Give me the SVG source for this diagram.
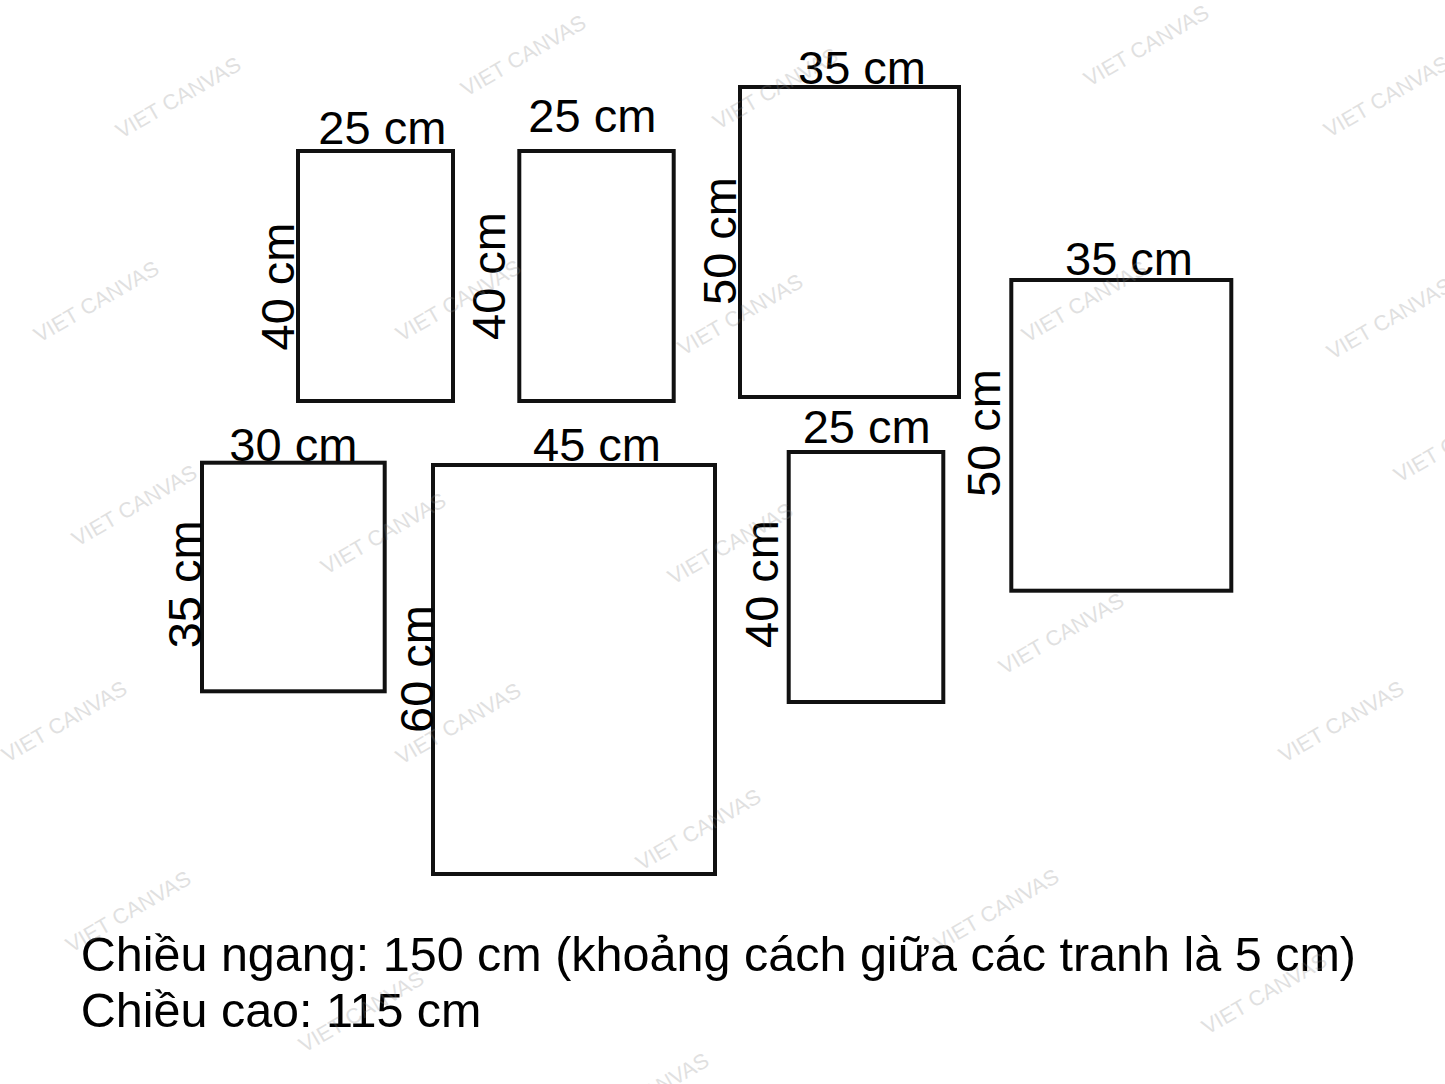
<svg xmlns="http://www.w3.org/2000/svg" width="1445" height="1084" viewBox="0 0 1445 1084">
<style>
.frame{fill:#fff;stroke:#111;stroke-width:4}
.lbl{font-family:"Liberation Sans",Arial,sans-serif;font-size:47px;fill:#000}
.note{font-family:"Liberation Sans",Arial,sans-serif;font-size:48.5px;fill:#000}
.wm{font-family:"Liberation Sans",Arial,sans-serif;font-size:21.5px;fill:#888;opacity:0.25;text-anchor:middle}
</style>
<rect width="1445" height="1084" fill="#fff"/>
<g id="canvas-25x40-a">
<rect class="frame" x="298" y="151" width="155" height="250"/>
<text class="lbl" x="318.3" y="144">25 cm</text>
<text class="lbl" transform="translate(294,350.5) rotate(-90)">40 cm</text>
</g>
<g id="canvas-25x40-b">
<rect class="frame" x="519.3" y="151" width="154.4" height="250"/>
<text class="lbl" x="528.3" y="132">25 cm</text>
<text class="lbl" transform="translate(505,340) rotate(-90)">40 cm</text>
</g>
<g id="canvas-35x50-a">
<rect class="frame" x="740" y="87" width="219" height="310"/>
<text class="lbl" x="798" y="84">35 cm</text>
<text class="lbl" transform="translate(736,305) rotate(-90)">50 cm</text>
</g>
<g id="canvas-35x50-b">
<rect class="frame" x="1011.3" y="280" width="220" height="310.7"/>
<text class="lbl" x="1065" y="275">35 cm</text>
<text class="lbl" transform="translate(1000,497) rotate(-90)">50 cm</text>
</g>
<g id="canvas-30x35">
<rect class="frame" x="202" y="462.7" width="182.7" height="228.6"/>
<text class="lbl" x="229.3" y="461">30 cm</text>
<text class="lbl" transform="translate(201,648.3) rotate(-90)">35 cm</text>
</g>
<g id="canvas-45x60">
<rect class="frame" x="433" y="465" width="282" height="409"/>
<text class="lbl" x="533" y="461">45 cm</text>
<text class="lbl" transform="translate(433,733) rotate(-90)">60 cm</text>
</g>
<g id="canvas-25x40-c">
<rect class="frame" x="788.7" y="452" width="154.6" height="250"/>
<text class="lbl" x="802.7" y="443">25 cm</text>
<text class="lbl" transform="translate(778,648) rotate(-90)">40 cm</text>
</g>
<g id="connectors"></g>
<g id="notes">
<text class="note" x="80.7" y="970.7">Chiều ngang: 150 cm (khoảng cách giữa các tranh là 5 cm)</text>
<text class="note" x="80.7" y="1026.7">Chiều cao: 115 cm</text>
</g>
<g id="watermarks">
<text class="wm" transform="translate(182,104) rotate(-30)">VIET CANVAS</text>
<text class="wm" transform="translate(527,62) rotate(-30)">VIET CANVAS</text>
<text class="wm" transform="translate(779,95) rotate(-30)">VIET CANVAS</text>
<text class="wm" transform="translate(1150,52) rotate(-30)">VIET CANVAS</text>
<text class="wm" transform="translate(1390,103) rotate(-30)">VIET CANVAS</text>
<text class="wm" transform="translate(100,308) rotate(-30)">VIET CANVAS</text>
<text class="wm" transform="translate(462,307) rotate(-30)">VIET CANVAS</text>
<text class="wm" transform="translate(744,321) rotate(-30)">VIET CANVAS</text>
<text class="wm" transform="translate(1088,308) rotate(-30)">VIET CANVAS</text>
<text class="wm" transform="translate(1393,325) rotate(-30)">VIET CANVAS</text>
<text class="wm" transform="translate(1460,448) rotate(-30)">VIET CANVAS</text>
<text class="wm" transform="translate(138,512) rotate(-30)">VIET CANVAS</text>
<text class="wm" transform="translate(387,540) rotate(-30)">VIET CANVAS</text>
<text class="wm" transform="translate(734,550) rotate(-30)">VIET CANVAS</text>
<text class="wm" transform="translate(68,728) rotate(-30)">VIET CANVAS</text>
<text class="wm" transform="translate(462,730) rotate(-30)">VIET CANVAS</text>
<text class="wm" transform="translate(1065,640) rotate(-30)">VIET CANVAS</text>
<text class="wm" transform="translate(1345,728) rotate(-30)">VIET CANVAS</text>
<text class="wm" transform="translate(702,836) rotate(-30)">VIET CANVAS</text>
<text class="wm" transform="translate(132,918) rotate(-30)">VIET CANVAS</text>
<text class="wm" transform="translate(1000,916) rotate(-30)">VIET CANVAS</text>
<text class="wm" transform="translate(365,1018) rotate(-30)">VIET CANVAS</text>
<text class="wm" transform="translate(1268,1000) rotate(-30)">VIET CANVAS</text>
<text class="wm" transform="translate(650,1100) rotate(-30)">VIET CANVAS</text>
</g>
</svg>
